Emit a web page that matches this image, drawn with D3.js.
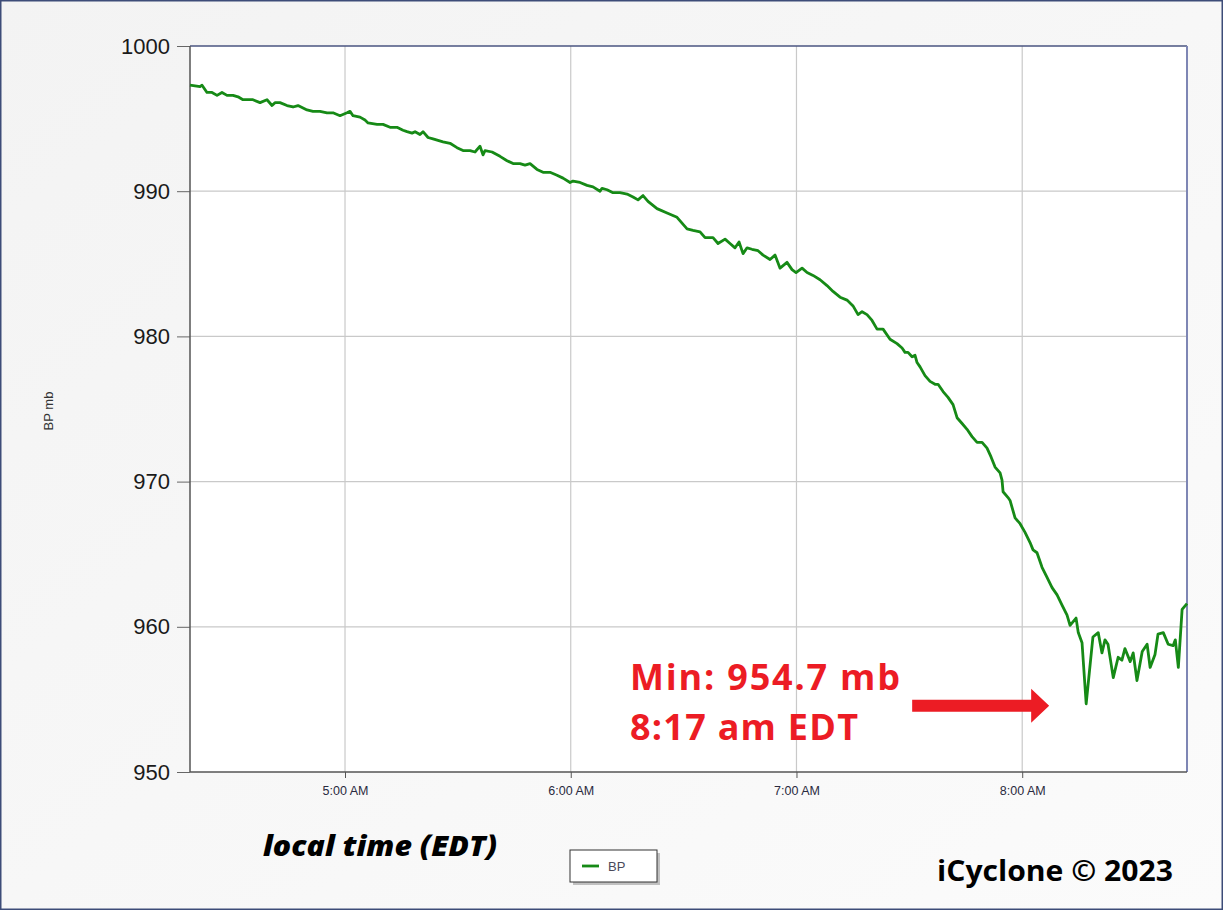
<!DOCTYPE html>
<html>
<head>
<meta charset="utf-8">
<script src="https://cdn.jsdelivr.net/npm/d3@7"></script>
<style>
  html, body { margin: 0; padding: 0; background: #fff; }
  svg { display: block; }
</style>
</head>
<body>
<div id="chart"></div>
<script>
// barometric pressure log (local time EDT, mb)
const times = [
  "4:18:48", "4:21:28", "4:22:00", "4:23:19", "4:24:39", "4:25:59", "4:27:18", "4:28:38",
  "4:30:14", "4:31:34", "4:32:53", "4:35:32", "4:37:25", "4:39:16", "4:40:36", "4:41:23",
  "4:42:43", "4:44:35", "4:46:11", "4:47:31", "4:49:54", "4:51:29", "4:53:21", "4:55:13",
  "4:56:49", "4:58:40", "5:00:32", "5:01:20", "5:02:08", "5:03:59", "5:05:19", "5:06:07",
  "5:08:31", "5:10:06", "5:11:58", "5:13:49", "5:15:25", "5:16:29", "5:17:49", "5:18:37",
  "5:19:56", "5:20:44", "5:22:04", "5:23:23", "5:24:43", "5:26:03", "5:27:55", "5:29:46",
  "5:31:22", "5:33:14", "5:34:33", "5:35:53", "5:36:41", "5:37:13", "5:39:05", "5:41:12",
  "5:43:04", "5:44:40", "5:46:31", "5:47:51", "5:49:11", "5:51:02", "5:52:38", "5:54:29",
  "5:56:21", "5:57:57", "5:59:49", "6:00:36", "6:02:28", "6:04:20", "6:05:55", "6:07:47",
  "6:08:19", "6:09:39", "6:11:14", "6:13:06", "6:14:58", "6:16:33", "6:17:53", "6:19:13",
  "6:20:32", "6:22:56", "6:25:36", "6:28:15", "6:29:35", "6:30:55", "6:32:30", "6:34:22",
  "6:35:42", "6:37:49", "6:39:09", "6:41:01", "6:42:20", "6:43:40", "6:44:44", "6:45:48",
  "6:46:52", "6:48:11", "6:49:47", "6:51:07", "6:52:58", "6:54:18", "6:55:38", "6:57:29",
  "6:58:49", "6:59:53", "7:01:29", "7:02:49", "7:04:24", "7:06:16", "7:08:07", "7:09:43",
  "7:11:35", "7:13:26", "7:15:02", "7:16:22", "7:17:26", "7:18:45", "7:20:05", "7:21:25",
  "7:23:01", "7:24:52", "7:26:44", "7:28:04", "7:28:51", "7:29:39", "7:30:43", "7:31:31",
  "7:32:03", "7:32:51", "7:34:10", "7:35:30", "7:36:50", "7:37:38", "7:38:58", "7:40:17",
  "7:41:37", "7:42:41", "7:44:01", "7:45:20", "7:46:40", "7:48:00", "7:49:20", "7:50:39",
  "7:51:43", "7:52:47", "7:54:07", "7:54:38", "7:54:55", "7:56:14", "7:56:46", "7:58:06",
  "7:59:26", "8:00:45", "8:02:05", "8:02:53", "8:03:56", "8:05:16", "8:06:36", "8:07:56",
  "8:09:16", "8:10:35", "8:11:55", "8:12:43", "8:14:19", "8:14:54", "8:15:54", "8:17:00",
  "8:18:48", "8:20:12", "8:21:12", "8:22:00", "8:22:48", "8:24:12", "8:25:30", "8:26:30",
  "8:27:18", "8:28:42", "8:29:30", "8:30:30", "8:31:54", "8:33:12", "8:34:00", "8:35:18",
  "8:36:06", "8:37:30", "8:38:48", "8:40:06", "8:40:42", "8:41:30", "8:42:30", "8:43:48"
];
const pressures = [
  997.3, 997.2, 997.3, 996.8, 996.8, 996.6, 996.8, 996.6,
  996.6, 996.5, 996.3, 996.3, 996.1, 996.3, 995.9, 996.1,
  996.1, 995.9, 995.8, 995.9, 995.6, 995.5, 995.5, 995.4,
  995.4, 995.2, 995.4, 995.5, 995.2, 995.1, 994.9, 994.7,
  994.6, 994.6, 994.4, 994.4, 994.2, 994.1, 994.0, 994.1,
  993.9, 994.1, 993.7, 993.6, 993.5, 993.4, 993.3, 993.0,
  992.8, 992.8, 992.7, 993.1, 992.5, 992.8, 992.7, 992.4,
  992.1, 991.9, 991.9, 991.8, 991.9, 991.5, 991.3, 991.3,
  991.1, 990.9, 990.6, 990.7, 990.6, 990.4, 990.3, 990.0,
  990.2, 990.1, 989.9, 989.9, 989.8, 989.6, 989.4, 989.7,
  989.3, 988.8, 988.5, 988.2, 987.8, 987.4, 987.3, 987.2,
  986.8, 986.8, 986.4, 986.7, 986.4, 986.1, 986.5, 985.7,
  986.1, 986.0, 985.9, 985.6, 985.3, 985.6, 984.7, 985.1,
  984.6, 984.4, 984.7, 984.4, 984.2, 983.9, 983.5, 983.1,
  982.7, 982.5, 982.1, 981.5, 981.7, 981.5, 981.1, 980.5,
  980.5, 979.8, 979.5, 979.2, 978.9, 978.9, 978.6, 978.7,
  978.2, 977.9, 977.3, 976.9, 976.7, 976.7, 976.2, 975.8,
  975.3, 974.4, 974.0, 973.6, 973.1, 972.7, 972.7, 972.3,
  971.7, 971.0, 970.6, 970.1, 969.3, 968.9, 968.7, 967.5,
  967.1, 966.5, 965.8, 965.3, 965.1, 964.1, 963.4, 962.7,
  962.2, 961.5, 960.8, 960.1, 960.6, 959.6, 958.9, 954.7,
  959.3, 959.6, 958.2, 959.1, 958.8, 956.5, 957.9, 957.7,
  958.5, 957.6, 958.2, 956.3, 958.3, 958.8, 957.2, 958.1,
  959.5, 959.6, 958.8, 958.7, 959.1, 957.2, 961.2, 961.6
];
const timeDomain = ["4:18:48", "8:43:48"];
const xTicks = ["5:00:00", "6:00:00", "7:00:00", "8:00:00"];
const xTickLabels = ["5:00 AM", "6:00 AM", "7:00 AM", "8:00 AM"];
const yTicks = [950, 960, 970, 980, 990, 1000];
const minTime = "8:17:00";
const minValue = 954.7;

const W = 1223, H = 910;
const MARGIN = { top: 46, right: 36, bottom: 138, left: 190 };
const GREEN = "#168a16";
const RED = "#ec1c24";

const parse = d3.timeParse("%H:%M:%S");
const data = times.map((t, i) => ({ t: parse(t), v: pressures[i] }));

const svg = d3.select("#chart").append("svg")
  .attr("width", W)
  .attr("height", H);

// page background with thin frame
const defs = svg.append("defs");
const bg = defs.append("linearGradient").attr("id", "bg")
  .attr("x1", 0).attr("y1", 0).attr("x2", 1).attr("y2", 1);
bg.append("stop").attr("offset", "0%").attr("stop-color", "#f3f3f3");
bg.append("stop").attr("offset", "100%").attr("stop-color", "#fbfbfb");

svg.append("rect")
  .attr("x", 0.75).attr("y", 0.75)
  .attr("width", W - 1.5).attr("height", H - 1.5)
  .attr("fill", "url(#bg)")
  .attr("stroke", "#3d4c78")
  .attr("stroke-width", 1.5);

const width = W - MARGIN.left - MARGIN.right;
const height = H - MARGIN.top - MARGIN.bottom;

const x = d3.scaleTime()
  .domain(timeDomain.map(parse))
  .range([0, width]);

const y = d3.scaleLinear()
  .domain([950, 1000])
  .range([height, 0]);

const g = svg.append("g")
  .attr("transform", `translate(${MARGIN.left},${MARGIN.top})`);

g.append("rect")
  .attr("width", width)
  .attr("height", height)
  .attr("fill", "#fff");

// grid lines
g.append("g")
  .selectAll("line")
  .data(yTicks.slice(1, -1))
  .join("line")
  .attr("x1", 0).attr("x2", width)
  .attr("y1", d => y(d)).attr("y2", d => y(d))
  .attr("stroke", "#c9c9c9")
  .attr("stroke-width", 1.2);

g.append("g")
  .selectAll("line")
  .data(xTicks.map(parse))
  .join("line")
  .attr("x1", d => x(d)).attr("x2", d => x(d))
  .attr("y1", 0).attr("y2", height)
  .attr("stroke", "#c9c9c9")
  .attr("stroke-width", 1.2);

// Y axis
g.append("g")
  .call(d3.axisLeft(y).tickValues(yTicks).tickFormat(d3.format("d")).tickSize(13).tickPadding(7))
  .call(ax => ax.select(".domain").remove())
  .call(ax => ax.selectAll("line").attr("stroke", "#666"))
  .selectAll("text")
  .style("fill", "#1a1a1a")
  .style("font-family", "'Liberation Sans', Arial, sans-serif")
  .style("font-size", "22px");

// X axis
g.append("g")
  .attr("transform", `translate(0,${height})`)
  .call(d3.axisBottom(x)
    .tickValues(xTicks.map(parse))
    .tickFormat((d, i) => xTickLabels[i])
    .tickSize(6).tickPadding(8))
  .call(ax => ax.select(".domain").remove())
  .call(ax => ax.selectAll("line").attr("stroke", "#555"))
  .selectAll("text")
  .style("fill", "#2a2a40")
  .style("font-family", "'Liberation Sans', Arial, sans-serif")
  .style("font-size", "12.5px");

// plot frame: dark left/bottom, bluish top/right
g.append("line").attr("x1", 0).attr("x2", width).attr("y1", 0).attr("y2", 0)
  .attr("stroke", "#4a5580").attr("stroke-width", 1.5);
g.append("line").attr("x1", width).attr("x2", width).attr("y1", 0).attr("y2", height)
  .attr("stroke", "#7e86b4").attr("stroke-width", 2);
g.append("line").attr("x1", 0).attr("x2", 0).attr("y1", 0).attr("y2", height)
  .attr("stroke", "#555").attr("stroke-width", 1.5);
g.append("line").attr("x1", 0).attr("x2", width).attr("y1", height).attr("y2", height)
  .attr("stroke", "#555").attr("stroke-width", 1.5);

// pressure line
g.append("path")
  .datum(data)
  .attr("fill", "none")
  .attr("stroke", GREEN)
  .attr("stroke-width", 2.8)
  .attr("stroke-linejoin", "round")
  .attr("d", d3.line().x(d => x(d.t)).y(d => y(d.v)));

// minimum annotation
const mx = x(parse(minTime));
const my = y(minValue);
const tipX = mx - 37, tipY = my + 2;
g.append("path")
  .attr("fill", RED)
  .attr("d", `M${tipX - 137},${tipY - 6} L${tipX - 18},${tipY - 6} L${tipX - 18},${tipY - 17}
    L${tipX},${tipY} L${tipX - 18},${tipY + 17} L${tipX - 18},${tipY + 6} L${tipX - 137},${tipY + 6} Z`);

const note = svg.append("text")
  .attr("x", 630)
  .attr("y", 690)
  .style("fill", RED)
  .style("font-family", "'Open Sans', 'Noto Sans', sans-serif")
  .style("font-weight", "bold")
  .style("font-size", "36px");
note.append("tspan").attr("x", 630).attr("textLength", 270).text("Min: 954.7 mb");
note.append("tspan").attr("x", 630).attr("y", 740).attr("textLength", 228).text("8:17 am EDT");

// y-axis title
svg.append("text")
  .attr("transform", "translate(53,411) rotate(-90)")
  .attr("text-anchor", "middle")
  .style("fill", "#333")
  .style("font-family", "'Liberation Sans', Arial, sans-serif")
  .style("font-size", "13px")
  .text("BP mb");

// x-axis title
svg.append("text")
  .attr("x", 380)
  .attr("y", 856)
  .attr("text-anchor", "middle")
  .attr("textLength", 234)
  .attr("lengthAdjust", "spacingAndGlyphs")
  .style("fill", "#000")
  .style("font-family", "'Open Sans', sans-serif")
  .style("font-weight", 800)
  .style("font-style", "italic")
  .style("font-size", "28px")
  .text("local time (EDT)");

// legend
const lg = svg.append("g").attr("transform", "translate(570,850)");
lg.append("rect").attr("x", 3).attr("y", 3).attr("width", 87).attr("height", 32)
  .attr("fill", "#9a9a9a").attr("opacity", 0.6);
lg.append("rect").attr("width", 87).attr("height", 32)
  .attr("fill", "#fff").attr("stroke", "#333").attr("stroke-width", 1);
lg.append("line").attr("x1", 12).attr("x2", 29).attr("y1", 16).attr("y2", 16)
  .attr("stroke", GREEN).attr("stroke-width", 2.8);
lg.append("text").attr("x", 38).attr("y", 21)
  .style("fill", "#4a4a5a")
  .style("font-family", "'Liberation Sans', Arial, sans-serif")
  .style("font-size", "13px")
  .text("BP");

// credit
svg.append("text")
  .attr("x", 937)
  .attr("y", 881)
  .attr("textLength", 236)
  .attr("lengthAdjust", "spacingAndGlyphs")
  .style("fill", "#000")
  .style("font-family", "'Open Sans', 'Noto Sans', sans-serif")
  .style("font-weight", "bold")
  .style("font-size", "28px")
  .text("iCyclone © 2023");
</script>
</body>
</html>
